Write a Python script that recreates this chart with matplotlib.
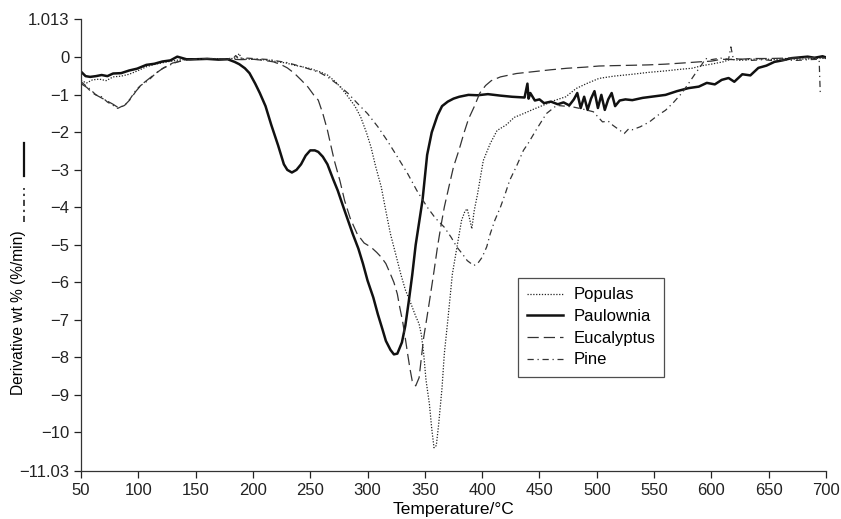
import matplotlib
matplotlib.use("Agg")
import matplotlib.pyplot as plt
from matplotlib.lines import Line2D

plt.rcParams["font.family"] = ["Liberation Sans", "DejaVu Sans"]

# DTG curves (temperature in degC, rate in %/min)
paulownia_t = [50, 54, 58, 63, 68, 73, 78, 85, 92, 99, 107, 114, 121, 128, 134, 142,
               150, 160, 170, 178, 184, 188, 193, 197, 202, 206, 211, 216, 222, 227,
               230, 234, 238, 242, 246, 250, 254, 257, 261, 265, 270, 274, 279, 283,
               287, 292, 296, 300, 305, 309, 313, 316, 320, 323, 326, 330, 333, 336,
               339, 342, 345, 348, 352, 356, 361, 365, 370, 375, 380, 388, 396, 405,
               416, 426, 437, 439.5, 440.5, 442, 446, 450, 454, 460, 466, 471, 476,
               480, 483, 486, 489, 492, 495, 498, 501, 504, 507, 510, 513, 516, 520,
               525, 531, 540, 550, 560, 570, 580, 589, 596, 603, 609, 615, 620, 627,
               634, 641, 648, 655, 662, 670, 677, 684, 690, 697, 700]
paulownia_v = [-0.38, -0.50, -0.52, -0.50, -0.47, -0.50, -0.43, -0.42, -0.35, -0.30,
               -0.20, -0.17, -0.11, -0.08, 0.02, -0.05, -0.05, -0.04, -0.06, -0.05,
               -0.12, -0.18, -0.29, -0.42, -0.70, -0.95, -1.30, -1.80, -2.35, -2.85,
               -3.00, -3.07, -3.00, -2.85, -2.62, -2.48, -2.48, -2.52, -2.65, -2.85,
               -3.25, -3.55, -4.00, -4.35, -4.70, -5.10, -5.50, -5.95, -6.40, -6.85,
               -7.25, -7.56, -7.80, -7.92, -7.90, -7.60, -7.15, -6.50, -5.80, -5.00,
               -4.40, -3.80, -2.60, -2.00, -1.55, -1.30, -1.18, -1.10, -1.05, -1.00,
               -1.01, -0.98, -1.02, -1.05, -1.07, -0.70, -1.10, -0.95, -1.15, -1.12,
               -1.22, -1.18, -1.25, -1.20, -1.28, -1.12, -0.95, -1.35, -1.05, -1.40,
               -1.10, -0.90, -1.35, -1.00, -1.40, -1.12, -0.95, -1.30, -1.15, -1.12,
               -1.14, -1.08, -1.04, -1.00, -0.90, -0.82, -0.78, -0.68, -0.72, -0.60,
               -0.55, -0.65, -0.45, -0.48, -0.28, -0.22, -0.12, -0.08, -0.02, 0.00,
               0.02, -0.01, 0.03, 0.00]

populas_t = [50, 55, 60, 66, 72, 78, 85, 92, 100, 107, 115, 125, 135, 145, 155, 165,
             175, 185, 188, 190, 200, 208, 215, 222, 229, 236, 243, 250, 258, 265,
             272, 278, 283, 289, 294, 299, 303, 307, 312, 316, 320, 325, 329, 333,
             338, 342, 345, 347, 349, 351, 354, 356, 358, 360, 362, 365, 367, 370,
             374, 378, 382, 385, 387, 389, 391, 393, 396, 401, 407, 413, 421, 428,
             436, 445, 453, 463, 473, 482, 491, 502, 515, 531, 545, 560, 572, 583,
             592, 600, 610, 617, 625, 635, 645, 655, 665, 675, 685, 695, 700]
populas_v = [-0.62, -0.68, -0.60, -0.58, -0.62, -0.52, -0.50, -0.45, -0.35, -0.25,
             -0.18, -0.12, -0.07, -0.05, -0.04, -0.03, -0.05, -0.02, 0.10, -0.04,
             -0.05, -0.06, -0.08, -0.12, -0.15, -0.21, -0.25, -0.30, -0.38, -0.47,
             -0.65, -0.85, -1.05, -1.30, -1.59, -2.00, -2.39, -2.90, -3.46, -4.10,
             -4.71, -5.30, -5.78, -6.20, -6.58, -6.90, -7.11, -7.40, -7.91, -8.60,
             -9.25, -9.90, -10.41, -10.35, -9.80, -8.81, -7.90, -7.02, -5.78, -5.06,
             -4.35, -4.10, -4.04, -4.30, -4.57, -4.10, -3.64, -2.75, -2.30, -1.95,
             -1.80, -1.60, -1.50, -1.38, -1.28, -1.15, -1.05, -0.83, -0.70, -0.56,
             -0.50, -0.45, -0.40, -0.36, -0.32, -0.29, -0.22, -0.18, -0.12, -0.05,
             -0.08, -0.05, -0.04, -0.06, -0.03, -0.05, -0.04, -0.02, -0.03]

eucalyptus_t = [50, 55, 60, 66, 72, 78, 83, 88, 93, 98, 103, 108, 115, 122, 130, 140,
                150, 160, 170, 180, 190, 200, 210, 218, 225, 230, 236, 242, 248, 253,
                257, 261, 265, 268, 271, 276, 280, 285, 291, 297, 303, 308, 312, 316,
                320, 323, 326, 328, 330.5, 333, 335, 337, 339, 342, 345, 347, 349,
                352, 355, 358, 361, 364, 367, 371, 375, 380, 384, 388, 393, 398, 403,
                408, 416, 430, 445, 460, 474, 490, 502, 515, 531, 545, 560, 575, 589,
                600, 609, 620, 635, 650, 665, 680, 695, 700]
eucalyptus_v = [-0.70, -0.80, -0.95, -1.05, -1.15, -1.25, -1.35, -1.28, -1.12, -0.90,
                -0.72, -0.60, -0.43, -0.28, -0.15, -0.08, -0.05, -0.03, -0.04, -0.05,
                -0.06, -0.05, -0.08, -0.12, -0.20, -0.28, -0.42, -0.60, -0.79, -1.00,
                -1.14, -1.50, -1.94, -2.35, -2.75, -3.30, -3.82, -4.30, -4.71, -4.95,
                -5.06, -5.20, -5.33, -5.50, -5.78, -6.00, -6.31, -6.65, -7.02, -7.50,
                -7.91, -8.30, -8.63, -8.76, -8.54, -8.00, -7.47, -6.90, -6.31, -5.70,
                -5.06, -4.50, -3.99, -3.45, -2.92, -2.45, -2.03, -1.65, -1.32, -0.95,
                -0.75, -0.62, -0.52, -0.43, -0.38, -0.33, -0.29, -0.26, -0.23, -0.22,
                -0.21, -0.20, -0.18, -0.15, -0.12, -0.10, -0.05, -0.06, -0.03, -0.03,
                -0.02, -0.01, 0.00, -0.02]

pine_t = [50, 54, 58, 63, 68, 73, 78, 82, 86, 89, 93, 98, 102, 107, 111, 115, 121,
          127, 134, 141, 152, 164, 175, 183, 185, 187, 195, 205, 215, 222, 230, 237,
          244, 250, 258, 265, 274, 283, 291, 300, 309, 317, 326, 335, 343, 352, 359,
          367, 373, 378, 383, 387, 392.6, 396, 400, 404, 407, 411, 416, 420, 424,
          430, 436, 440, 447, 456, 465, 472, 479, 488, 497, 505, 510, 514, 519, 524,
          528, 531, 538, 546, 553, 560, 567, 574, 580, 586, 591, 595, 600, 608, 615,
          617, 619, 625, 635, 645, 655, 665, 675, 685, 694, 695]
pine_v = [-0.65, -0.75, -0.85, -1.00, -1.05, -1.19, -1.28, -1.36, -1.30, -1.25, -1.10,
          -0.87, -0.75, -0.65, -0.55, -0.43, -0.30, -0.21, -0.12, -0.07, -0.05, -0.03,
          -0.04, -0.02, 0.05, -0.03, -0.02, -0.04, -0.06, -0.10, -0.14, -0.20, -0.26,
          -0.32, -0.40, -0.52, -0.72, -0.96, -1.22, -1.50, -1.85, -2.21, -2.65, -3.10,
          -3.55, -3.99, -4.28, -4.53, -4.80, -5.06, -5.25, -5.42, -5.55, -5.50, -5.33,
          -5.05, -4.71, -4.35, -3.99, -3.65, -3.28, -2.90, -2.48, -2.30, -1.94, -1.50,
          -1.28, -1.30, -1.32, -1.38, -1.45, -1.72, -1.70, -1.81, -1.92, -2.03, -1.90,
          -1.93, -1.85, -1.72, -1.55, -1.41, -1.20, -0.96, -0.70, -0.43, -0.22, -0.03,
          -0.06, -0.02, -0.05, 0.28, -0.02, -0.05, -0.08, -0.06, -0.09, -0.07, -0.08,
          -0.06, -0.05, -0.96]

x_ticks = list(range(50, 701, 50))
y_ticks = [1.013, 0, -1, -2, -3, -4, -5, -6, -7, -8, -9, -10, -11.03]
y_tick_labels = ["1.013", "0", "\u22121", "\u22122", "\u22123", "\u22124", "\u22125",
                 "\u22126", "\u22127", "\u22128", "\u22129", "\u221210", "\u221211.03"]

W, H = 841, 519
fig = plt.figure(figsize=(W / 100, H / 100), dpi=100)
ax = fig.add_axes([81 / W, 48 / H, 745 / W, 451.6 / H])

ax.plot(populas_t, populas_v, color="#222222", lw=0.9, linestyle=(0, (1, 1.3)), label="Populas")
ax.plot(paulownia_t, paulownia_v, color="#111111", lw=1.8, label="Paulownia")
ax.plot(eucalyptus_t, eucalyptus_v, color="#333333", lw=0.9, linestyle=(0, (9, 4)), label="Eucalyptus")
ax.plot(pine_t, pine_v, color="#333333", lw=0.9, linestyle=(0, (5, 3, 1, 3)), label="Pine")

ax.set_xlim(50, 700)
ax.set_ylim(-11.03, 1.013)
ax.set_xticks(x_ticks)
ax.set_yticks(y_ticks)
ax.set_yticklabels(y_tick_labels)
ax.tick_params(direction="out", length=5, width=0.9, labelsize=12, colors="#222222")
for side in ["top", "right"]:
    ax.spines[side].set_visible(False)
for side in ["left", "bottom"]:
    ax.spines[side].set_linewidth(0.9)
    ax.spines[side].set_color("#333333")

ax.set_xlabel("Temperature/\u00b0C", fontsize=12.5, labelpad=3)

# y label text plus the line-style key that follows it
fig.text(19 / W, 1 - 395 / H, "Derivative wt % (%/min)", rotation=90,
         ha="center", va="bottom", fontsize=11.2)
fig.add_artist(Line2D([24 / W, 24 / W], [1 - 222 / H, 1 - 188 / H], transform=fig.transFigure,
                      color="#111111", lw=1.1, linestyle=(0, (4, 2.5, 1.5, 2.5))))
fig.add_artist(Line2D([24 / W, 24 / W], [1 - 176 / H, 1 - 143 / H], transform=fig.transFigure,
                      color="#111111", lw=1.6))

leg = ax.legend(loc="upper left", bbox_to_anchor=(0.586, 0.427), borderaxespad=0,
                fontsize=12, frameon=True, fancybox=False, handlelength=2.2,
                handletextpad=0.6, labelspacing=0.4, borderpad=0.55)
leg.get_frame().set_edgecolor("#222222")
leg.get_frame().set_linewidth(0.9)

fig.savefig("out.png", dpi=100)
